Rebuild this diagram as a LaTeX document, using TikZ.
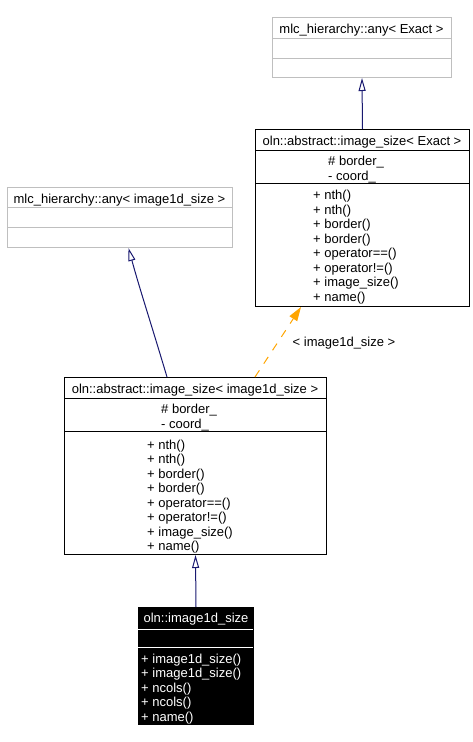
\documentclass[tikz,border=0pt]{standalone}
\usepackage{fontspec}
\setmainfont{Liberation Sans}
\usetikzlibrary{arrows.meta}
\definecolor{boxgrey}{RGB}{191,191,191}
\definecolor{edgenavy}{RGB}{25,25,112}
\definecolor{edgeorange}{RGB}{255,165,0}
\begin{document}
\begin{tikzpicture}[x=1pt,y=-1pt,
  txt/.style={inner sep=0pt, anchor=base west, font=\fontsize{13}{14.5}\selectfont},
  ttl/.style={inner sep=0pt, anchor=base, font=\fontsize{13}{14.5}\selectfont},
  classbox/.style={draw, line width=1pt, inner sep=0pt, anchor=north west},
  greybox/.style={classbox, draw=boxgrey},
  blackbox/.style={classbox, draw=black, fill=black},
  sepline/.style={line width=1pt},
  inherit/.style={draw=edgenavy, line width=1pt, -{Triangle[open, width=7pt, length=13pt, line width=1pt]}},
  templ/.style={draw=edgeorange, line width=1pt, dash pattern=on 8pt off 8pt, -{Triangle[width=9pt, length=14pt]}}]
\useasboundingbox (0,0) rectangle (473,742);

% --- mlc_hierarchy::any< Exact >
\node[greybox, minimum width=179pt, minimum height=60pt] (b1) at (272,17) {};
\draw[sepline, boxgrey] (272,38) -- (451,38) (272,58) -- (451,58);
\node[ttl] (b1t) at (361.5,33) {mlc\_hierarchy::any< Exact >};

% --- oln::abstract::image_size< Exact >
\node[classbox, minimum width=214pt, minimum height=177pt] (b2) at (255,129) {};
\draw[sepline] (255,150) -- (469,150) (255,183) -- (469,183);
\node[ttl] (b2t) at (362,145) {oln::abstract::image\_size< Exact >};
\node[txt] (b2a1) at (328,165.5) {\# border\_};
\node[txt] (b2a2) at (328,180) {- coord\_};
\foreach \t [count=\i from 0] in {+ nth(), + nth(), + border(), + border(), + operator==(), + operator!=(), + image\_size(), + name()}
  \node[txt] (b2m\i) at (313,199.5+14.5*\i) {\t};

% --- mlc_hierarchy::any< image1d_size >
\node[greybox, minimum width=225pt, minimum height=60pt] (b3) at (7,187) {};
\draw[sepline, boxgrey] (7,207) -- (232,207) (7,227) -- (232,227);
\node[ttl] (b3t) at (119.5,203) {mlc\_hierarchy::any< image1d\_size >};

% --- oln::abstract::image_size< image1d_size >
\node[classbox, minimum width=262pt, minimum height=177pt] (b4) at (64,377) {};
\draw[sepline] (64,398) -- (326,398) (64,431) -- (326,431);
\node[ttl] (b4t) at (195,393) {oln::abstract::image\_size< image1d\_size >};
\node[txt] (b4a1) at (161,413.5) {\# border\_};
\node[txt] (b4a2) at (161,428) {- coord\_};
\foreach \t [count=\i from 0] in {+ nth(), + nth(), + border(), + border(), + operator==(), + operator!=(), + image\_size(), + name()}
  \node[txt] (b4m\i) at (147,449+14.5*\i) {\t};

% --- oln::image1d_size
\node[blackbox, minimum width=115pt, minimum height=117pt] (b5) at (138,607) {};
\draw[sepline, white] (138,629) -- (253,629) (138,647) -- (253,647);
\node[ttl, text=white] (b5t) at (196,622.5) {oln::image1d\_size};
\foreach \t [count=\i from 0] in {+ image1d\_size(), + image1d\_size(), + ncols(), + ncols(), + name()}
  \node[txt, text=white] (b5m\i) at (141,663+14.5*\i) {\t};

% --- connectors
\draw[inherit] (b2.north) -- (b1.south);
\draw[inherit] (b5.north) -- (b4.south);
\draw[inherit] ([xshift=103pt]b4.north west) .. controls (150,320) and (140,290) .. ([xshift=121.5pt]b3.south west);
\draw[templ] ([xshift=191pt]b4.north west) -- ([xshift=46pt]b2.south west);
\node[txt] (lbl) at (292.5,346) {< image1d\_size >};
\end{tikzpicture}
\end{document}
